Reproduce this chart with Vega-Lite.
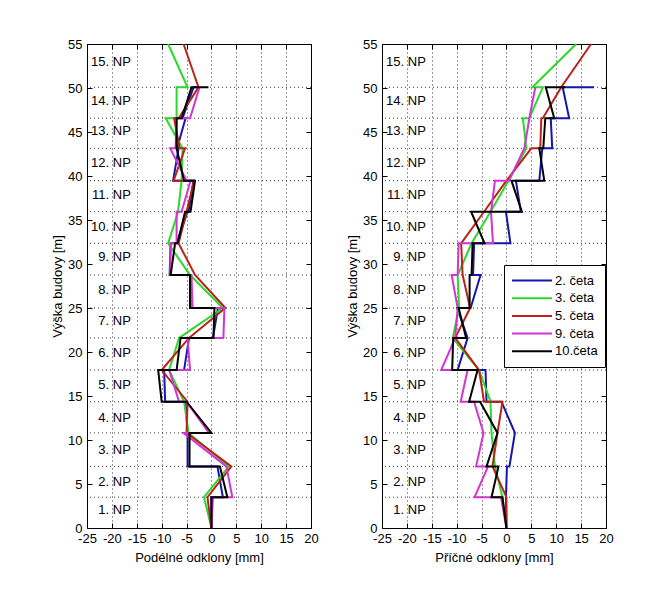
{
"$schema": "https://vega.github.io/schema/vega-lite/v6.json",
"background": "white",
"padding": {"left": 51, "top": 37, "right": 5, "bottom": 5},
"spacing": 27,
"datasets": {
"dummy": [{"v": 0}],
"floors": [{"h":3.5},{"h":7.0},{"h":10.8},{"h":14.35},{"h":17.95},{"h":21.6},{"h":25.0},{"h":28.75},{"h":32.35},{"h":35.94},{"h":39.47},{"h":43.15},{"h":46.56},{"h":50.08}],
"labels": [{"t":"1. NP","ly":2.0},{"t":"2. NP","ly":5.2},{"t":"3. NP","ly":8.9},{"t":"4. NP","ly":12.5},{"t":"5. NP","ly":16.25},{"t":"6. NP","ly":19.9},{"t":"7. NP","ly":23.5},{"t":"8. NP","ly":27.0},{"t":"9. NP","ly":30.8},{"t":"10. NP","ly":34.2},{"t":"11. NP","ly":37.8},{"t":"12. NP","ly":41.5},{"t":"13. NP","ly":45.1},{"t":"14. NP","ly":48.5},{"t":"15. NP","ly":52.95}],
"L": [
{"s":"2. četa","o":1,"x":0,"y":0},{"s":"2. četa","o":2,"x":0,"y":3.5},{"s":"2. četa","o":3,"x":2.3,"y":3.5},{"s":"2. četa","o":4,"x":1.2,"y":7.0},{"s":"2. četa","o":5,"x":-4.8,"y":7.0},{"s":"2. četa","o":6,"x":-4.8,"y":10.8},{"s":"2. četa","o":7,"x":-5.2,"y":14.35},{"s":"2. četa","o":8,"x":-9.3,"y":14.35},{"s":"2. četa","o":9,"x":-9.5,"y":17.95},{"s":"2. četa","o":10,"x":-5.5,"y":17.95},{"s":"2. četa","o":11,"x":-4.5,"y":21.6},{"s":"2. četa","o":12,"x":0.3,"y":21.6},{"s":"2. četa","o":13,"x":1.3,"y":25.0},{"s":"2. četa","o":14,"x":-4.2,"y":25.0},{"s":"2. četa","o":15,"x":-4.2,"y":28.75},{"s":"2. četa","o":16,"x":-8.4,"y":28.75},{"s":"2. četa","o":17,"x":-8.2,"y":32.35},{"s":"2. četa","o":18,"x":-7.0,"y":32.35},{"s":"2. četa","o":19,"x":-4.8,"y":35.94},{"s":"2. četa","o":20,"x":-4.6,"y":35.94},{"s":"2. četa","o":21,"x":-3.6,"y":39.47},{"s":"2. četa","o":22,"x":-7.7,"y":39.47},{"s":"2. četa","o":23,"x":-6.6,"y":43.15},{"s":"2. četa","o":24,"x":-6.9,"y":43.15},{"s":"2. četa","o":25,"x":-5.2,"y":46.56},{"s":"2. četa","o":26,"x":-5.8,"y":46.56},{"s":"2. četa","o":27,"x":-3.6,"y":50.08},{"s":"2. četa","o":28,"x":-2.8,"y":50.08},
{"s":"3. četa","o":1,"x":0,"y":0},{"s":"3. četa","o":2,"x":-1.5,"y":3.5},{"s":"3. četa","o":3,"x":3.5,"y":7.0},{"s":"3. četa","o":4,"x":-4.6,"y":10.8},{"s":"3. četa","o":5,"x":-5.5,"y":14.35},{"s":"3. četa","o":6,"x":-8.5,"y":17.95},{"s":"3. četa","o":7,"x":-6.5,"y":21.6},{"s":"3. četa","o":8,"x":2.3,"y":25.0},{"s":"3. četa","o":9,"x":-4.3,"y":28.75},{"s":"3. četa","o":10,"x":-8.7,"y":32.35},{"s":"3. četa","o":11,"x":-6.7,"y":35.94},{"s":"3. četa","o":12,"x":-6.0,"y":39.47},{"s":"3. četa","o":13,"x":-5.8,"y":43.15},{"s":"3. četa","o":14,"x":-9.2,"y":46.56},{"s":"3. četa","o":15,"x":-7.0,"y":46.56},{"s":"3. četa","o":16,"x":-7.0,"y":50.08},{"s":"3. četa","o":17,"x":-4.8,"y":50.08},{"s":"3. četa","o":18,"x":-8.7,"y":55},
{"s":"5. četa","o":1,"x":0,"y":0},{"s":"5. četa","o":2,"x":-0.8,"y":3.5},{"s":"5. četa","o":3,"x":4.0,"y":7.0},{"s":"5. četa","o":4,"x":-5.0,"y":10.8},{"s":"5. četa","o":5,"x":-4.8,"y":14.35},{"s":"5. četa","o":6,"x":-10.0,"y":17.95},{"s":"5. četa","o":7,"x":-4.5,"y":21.6},{"s":"5. četa","o":8,"x":2.8,"y":25.0},{"s":"5. četa","o":9,"x":-3.3,"y":28.75},{"s":"5. četa","o":10,"x":-6.6,"y":32.35},{"s":"5. četa","o":11,"x":-5.0,"y":35.94},{"s":"5. četa","o":12,"x":-3.5,"y":39.47},{"s":"5. četa","o":13,"x":-7.6,"y":39.47},{"s":"5. četa","o":14,"x":-5.3,"y":43.15},{"s":"5. četa","o":15,"x":-6.4,"y":43.15},{"s":"5. četa","o":16,"x":-7.5,"y":46.56},{"s":"5. četa","o":17,"x":-6.6,"y":46.56},{"s":"5. četa","o":18,"x":-2.6,"y":50.08},{"s":"5. četa","o":19,"x":-5.6,"y":55},
{"s":"9. četa","o":1,"x":0,"y":0},{"s":"9. četa","o":2,"x":0.3,"y":3.5},{"s":"9. četa","o":3,"x":4.2,"y":3.5},{"s":"9. četa","o":4,"x":3.0,"y":7.0},{"s":"9. četa","o":5,"x":-5.6,"y":10.8},{"s":"9. četa","o":6,"x":-0.5,"y":10.8},{"s":"9. četa","o":7,"x":-5.0,"y":14.35},{"s":"9. četa","o":8,"x":-6.5,"y":14.35},{"s":"9. četa","o":9,"x":-8.5,"y":17.95},{"s":"9. četa","o":10,"x":-4.3,"y":17.95},{"s":"9. četa","o":11,"x":-4.8,"y":21.6},{"s":"9. četa","o":12,"x":2.4,"y":21.6},{"s":"9. četa","o":13,"x":2.6,"y":25.0},{"s":"9. četa","o":14,"x":-3.8,"y":25.0},{"s":"9. četa","o":15,"x":-4.0,"y":28.75},{"s":"9. četa","o":16,"x":-8.3,"y":28.75},{"s":"9. četa","o":17,"x":-8.2,"y":32.35},{"s":"9. četa","o":18,"x":-7.0,"y":32.35},{"s":"9. četa","o":19,"x":-7.0,"y":35.94},{"s":"9. četa","o":20,"x":-6.0,"y":35.94},{"s":"9. četa","o":21,"x":-4.2,"y":39.47},{"s":"9. četa","o":22,"x":-5.0,"y":39.47},{"s":"9. četa","o":23,"x":-8.3,"y":43.15},{"s":"9. četa","o":24,"x":-7.2,"y":43.15},{"s":"9. četa","o":25,"x":-7.0,"y":46.56},{"s":"9. četa","o":26,"x":-4.3,"y":46.56},{"s":"9. četa","o":27,"x":-2.4,"y":50.08},
{"s":"10.četa","o":1,"x":0,"y":0},{"s":"10.četa","o":2,"x":0,"y":3.5},{"s":"10.četa","o":3,"x":3.2,"y":3.5},{"s":"10.četa","o":4,"x":1.7,"y":7.0},{"s":"10.četa","o":5,"x":-4.4,"y":7.0},{"s":"10.četa","o":6,"x":-4.4,"y":10.8},{"s":"10.četa","o":7,"x":0,"y":10.8},{"s":"10.četa","o":8,"x":-5.0,"y":14.35},{"s":"10.četa","o":9,"x":-10.0,"y":14.35},{"s":"10.četa","o":10,"x":-10.7,"y":17.95},{"s":"10.četa","o":11,"x":-7.0,"y":17.95},{"s":"10.četa","o":12,"x":-6.2,"y":21.6},{"s":"10.četa","o":13,"x":0.4,"y":21.6},{"s":"10.četa","o":14,"x":0.6,"y":25.0},{"s":"10.četa","o":15,"x":-4.3,"y":25.0},{"s":"10.četa","o":16,"x":-4.3,"y":28.75},{"s":"10.četa","o":17,"x":-8.2,"y":28.75},{"s":"10.četa","o":18,"x":-7.3,"y":32.35},{"s":"10.četa","o":19,"x":-6.8,"y":32.35},{"s":"10.četa","o":20,"x":-5.3,"y":35.94},{"s":"10.četa","o":21,"x":-4.2,"y":35.94},{"s":"10.četa","o":22,"x":-3.3,"y":39.47},{"s":"10.četa","o":23,"x":-5.5,"y":39.47},{"s":"10.četa","o":24,"x":-7.0,"y":43.15},{"s":"10.četa","o":25,"x":-7.0,"y":46.56},{"s":"10.četa","o":26,"x":-6.0,"y":46.56},{"s":"10.četa","o":27,"x":-4.0,"y":50.08},{"s":"10.četa","o":28,"x":-0.6,"y":50.08}
],
"R": [
{"s":"2. četa","o":1,"x":0,"y":0},{"s":"2. četa","o":2,"x":-0.1,"y":3.5},{"s":"2. četa","o":3,"x":0.1,"y":7.0},{"s":"2. četa","o":4,"x":0.6,"y":7.0},{"s":"2. četa","o":5,"x":1.7,"y":10.8},{"s":"2. četa","o":6,"x":-1.0,"y":14.35},{"s":"2. četa","o":7,"x":-4.0,"y":14.35},{"s":"2. četa","o":8,"x":-4.2,"y":17.95},{"s":"2. četa","o":9,"x":-9.8,"y":17.95},{"s":"2. četa","o":10,"x":-7.8,"y":21.6},{"s":"2. četa","o":11,"x":-9.9,"y":25.0},{"s":"2. četa","o":12,"x":-7.2,"y":25.0},{"s":"2. četa","o":13,"x":-5.2,"y":28.75},{"s":"2. četa","o":14,"x":-6.7,"y":28.75},{"s":"2. četa","o":15,"x":-6.5,"y":32.35},{"s":"2. četa","o":16,"x":0.8,"y":32.35},{"s":"2. četa","o":17,"x":-0.1,"y":35.94},{"s":"2. četa","o":18,"x":2.9,"y":35.94},{"s":"2. četa","o":19,"x":1.9,"y":39.47},{"s":"2. četa","o":20,"x":6.6,"y":39.47},{"s":"2. četa","o":21,"x":7.2,"y":43.15},{"s":"2. četa","o":22,"x":9.2,"y":43.15},{"s":"2. četa","o":23,"x":8.9,"y":46.56},{"s":"2. četa","o":24,"x":12.6,"y":46.56},{"s":"2. četa","o":25,"x":11.3,"y":50.08},{"s":"2. četa","o":26,"x":17.6,"y":50.08},
{"s":"3. četa","o":1,"x":0,"y":0},{"s":"3. četa","o":2,"x":-0.8,"y":3.5},{"s":"3. četa","o":3,"x":-2.3,"y":7.0},{"s":"3. četa","o":4,"x":-3.0,"y":10.8},{"s":"3. četa","o":5,"x":-3.2,"y":14.35},{"s":"3. četa","o":6,"x":-5.5,"y":17.95},{"s":"3. četa","o":7,"x":-10.8,"y":21.6},{"s":"3. četa","o":8,"x":-9.5,"y":25.0},{"s":"3. četa","o":9,"x":-9.8,"y":28.75},{"s":"3. četa","o":10,"x":-7.0,"y":32.35},{"s":"3. četa","o":11,"x":-3.2,"y":35.94},{"s":"3. četa","o":12,"x":0.4,"y":39.47},{"s":"3. četa","o":13,"x":4.0,"y":43.15},{"s":"3. četa","o":14,"x":3.3,"y":46.56},{"s":"3. četa","o":15,"x":4.6,"y":46.56},{"s":"3. četa","o":16,"x":7.3,"y":50.08},{"s":"3. četa","o":17,"x":5.2,"y":50.08},{"s":"3. četa","o":18,"x":14.0,"y":55},
{"s":"5. četa","o":1,"x":0,"y":0},{"s":"5. četa","o":2,"x":0,"y":3.5},{"s":"5. četa","o":3,"x":-2.8,"y":7.0},{"s":"5. četa","o":4,"x":-1.8,"y":10.8},{"s":"5. četa","o":5,"x":-0.8,"y":14.35},{"s":"5. četa","o":6,"x":-4.5,"y":14.35},{"s":"5. četa","o":7,"x":-5.5,"y":17.95},{"s":"5. četa","o":8,"x":-10.3,"y":21.6},{"s":"5. četa","o":9,"x":-7.3,"y":25.0},{"s":"5. četa","o":10,"x":-8.8,"y":28.75},{"s":"5. četa","o":11,"x":-9.1,"y":32.35},{"s":"5. četa","o":12,"x":-4.5,"y":35.94},{"s":"5. četa","o":13,"x":0.0,"y":39.47},{"s":"5. četa","o":14,"x":5.0,"y":43.15},{"s":"5. četa","o":15,"x":6.8,"y":43.15},{"s":"5. četa","o":16,"x":7.0,"y":46.56},{"s":"5. četa","o":17,"x":7.3,"y":46.56},{"s":"5. četa","o":18,"x":11.0,"y":50.08},{"s":"5. četa","o":19,"x":17.0,"y":55},
{"s":"9. četa","o":1,"x":0,"y":0},{"s":"9. četa","o":2,"x":-1.1,"y":3.5},{"s":"9. četa","o":3,"x":-6.4,"y":3.5},{"s":"9. četa","o":4,"x":-3.7,"y":7.0},{"s":"9. četa","o":5,"x":-6.1,"y":7.0},{"s":"9. četa","o":6,"x":-4.6,"y":10.8},{"s":"9. četa","o":7,"x":-6.5,"y":14.35},{"s":"9. četa","o":8,"x":-9.2,"y":14.35},{"s":"9. četa","o":9,"x":-7.8,"y":17.95},{"s":"9. četa","o":10,"x":-13.1,"y":17.95},{"s":"9. četa","o":11,"x":-10.3,"y":21.6},{"s":"9. četa","o":12,"x":-9.8,"y":25.0},{"s":"9. četa","o":13,"x":-11.0,"y":28.75},{"s":"9. četa","o":14,"x":-9.8,"y":28.75},{"s":"9. četa","o":15,"x":-9.6,"y":32.35},{"s":"9. četa","o":16,"x":-2.7,"y":32.35},{"s":"9. četa","o":17,"x":-3.1,"y":35.94},{"s":"9. četa","o":18,"x":-2.3,"y":39.47},{"s":"9. četa","o":19,"x":0.5,"y":39.47},{"s":"9. četa","o":20,"x":3.6,"y":43.15},{"s":"9. četa","o":21,"x":4.6,"y":46.56},{"s":"9. četa","o":22,"x":5.8,"y":50.08},
{"s":"10.četa","o":1,"x":0,"y":0},{"s":"10.četa","o":2,"x":-0.8,"y":3.5},{"s":"10.četa","o":3,"x":-3.0,"y":3.5},{"s":"10.četa","o":4,"x":-1.6,"y":7.0},{"s":"10.četa","o":5,"x":-4.0,"y":7.0},{"s":"10.četa","o":6,"x":-1.8,"y":10.8},{"s":"10.četa","o":7,"x":-5.3,"y":14.35},{"s":"10.četa","o":8,"x":-7.5,"y":14.35},{"s":"10.četa","o":9,"x":-5.8,"y":17.95},{"s":"10.četa","o":10,"x":-10.9,"y":17.95},{"s":"10.četa","o":11,"x":-10.7,"y":21.6},{"s":"10.četa","o":12,"x":-8.1,"y":21.6},{"s":"10.četa","o":13,"x":-9.6,"y":25.0},{"s":"10.četa","o":14,"x":-7.4,"y":25.0},{"s":"10.četa","o":15,"x":-7.4,"y":28.75},{"s":"10.četa","o":16,"x":-7.0,"y":28.75},{"s":"10.četa","o":17,"x":-6.8,"y":32.35},{"s":"10.četa","o":18,"x":-4.4,"y":32.35},{"s":"10.četa","o":19,"x":-7.1,"y":35.94},{"s":"10.četa","o":20,"x":3.1,"y":35.94},{"s":"10.četa","o":21,"x":1.0,"y":39.47},{"s":"10.četa","o":22,"x":7.6,"y":39.47},{"s":"10.četa","o":23,"x":6.6,"y":43.15},{"s":"10.četa","o":24,"x":7.4,"y":43.15},{"s":"10.četa","o":25,"x":7.8,"y":46.56},{"s":"10.četa","o":26,"x":9.6,"y":46.56},{"s":"10.četa","o":27,"x":7.9,"y":50.08},{"s":"10.četa","o":28,"x":11.8,"y":50.08}
]
},
"hconcat": [
{
"width": 224, "height": 484,
"layer": [
{"data": {"name": "floors"}, "mark": {"type": "rule", "strokeDash": [1, 3], "color": "#000", "strokeWidth": 1, "opacity": 0.8},
 "encoding": {"y": {"field": "h", "type": "quantitative", "scale": {"domain": [0, 55], "nice": false, "zero": false}, "axis": null}}},
{"data": {"name": "L"}, "mark": {"type": "line", "strokeWidth": 2},
 "encoding": {
  "x": {"field": "x", "type": "quantitative", "scale": {"domain": [-25, 20], "nice": false, "zero": false},
        "axis": {"title": "Podélné odklony [mm]", "values": [-25,-20,-15,-10,-5,0,5,10,15,20], "labelExpr": "'' + datum.value", "grid": true, "gridDash": [1, 3], "gridColor": "#000", "gridOpacity": 0.8, "tickSize": -5, "labelPadding": 9, "domain": false, "titlePadding": 6, "labelFlush": false, "labelOverlap": false}},
  "y": {"field": "y", "type": "quantitative",
        "axis": {"title": "Výška budovy [m]", "values": [0,5,10,15,20,25,30,35,40,45,50,55], "grid": false, "tickSize": -5, "labelPadding": 10, "domain": false, "titlePadding": 3, "labelFlush": false, "labelOverlap": false}},
  "color": {"field": "s", "type": "nominal", "scale": {"domain": ["2. četa","3. četa","5. četa","9. četa","10.četa"], "range": ["#1515B0","#2BD82B","#B82318","#D235D2","#000000"]}, "legend": null},
  "order": {"field": "o", "type": "quantitative"}
 }},
{"data": {"name": "labels"}, "mark": {"type": "text", "align": "right", "baseline": "middle", "font": "Liberation Sans", "fontSize": 13, "color": "#000"},
 "encoding": {"x": {"datum": -16.2, "type": "quantitative", "axis": null}, "y": {"field": "ly", "type": "quantitative", "axis": null}, "text": {"field": "t"}}},
{"data": {"name": "dummy"}, "mark": {"type": "point", "opacity": 0},
 "encoding": {
  "x": {"field": "v", "type": "quantitative", "axis": {"orient": "top", "title": null, "labels": false, "values": [-25,-20,-15,-10,-5,0,5,10,15,20], "grid": false, "tickSize": -5, "domain": false}},
  "y": {"field": "v", "type": "quantitative", "axis": {"orient": "right", "title": null, "labels": false, "values": [0,5,10,15,20,25,30,35,40,45,50,55], "grid": false, "tickSize": -5, "domain": false}}
 }}
],
"resolve": {"axis": {"x": "independent", "y": "independent"}}
},
{
"width": 224, "height": 484,
"layer": [
{"data": {"name": "floors"}, "mark": {"type": "rule", "strokeDash": [1, 3], "color": "#000", "strokeWidth": 1, "opacity": 0.8},
 "encoding": {"y": {"field": "h", "type": "quantitative", "scale": {"domain": [0, 55], "nice": false, "zero": false}, "axis": null}}},
{"data": {"name": "R"}, "mark": {"type": "line", "strokeWidth": 2},
 "encoding": {
  "x": {"field": "x", "type": "quantitative", "scale": {"domain": [-25, 20], "nice": false, "zero": false},
        "axis": {"title": "Příčné odklony [mm]", "values": [-25,-20,-15,-10,-5,0,5,10,15,20], "labelExpr": "'' + datum.value", "grid": true, "gridDash": [1, 3], "gridColor": "#000", "gridOpacity": 0.8, "tickSize": -5, "labelPadding": 9, "domain": false, "titlePadding": 6, "labelFlush": false, "labelOverlap": false}},
  "y": {"field": "y", "type": "quantitative",
        "axis": {"title": "Výška budovy [m]", "values": [0,5,10,15,20,25,30,35,40,45,50,55], "grid": false, "tickSize": -5, "labelPadding": 10, "domain": false, "titlePadding": 3, "labelFlush": false, "labelOverlap": false}},
  "color": {"field": "s", "type": "nominal", "scale": {"domain": ["2. četa","3. četa","5. četa","9. četa","10.četa"], "range": ["#1515B0","#2BD82B","#B82318","#D235D2","#000000"]},
            "legend": {"orient": "none", "legendX": 122, "legendY": 221, "title": null, "symbolType": "stroke", "symbolSize": 1600, "symbolStrokeWidth": 2, "labelFont": "Liberation Sans", "labelFontSize": 13, "labelColor": "#000", "labelOffset": 2, "strokeColor": "#000", "fillColor": "#fff", "padding": 7, "clipHeight": 17, "rowPadding": 0.7, "symbolOpacity": 1}},
  "order": {"field": "o", "type": "quantitative"}
 }},
{"data": {"name": "labels"}, "mark": {"type": "text", "align": "right", "baseline": "middle", "font": "Liberation Sans", "fontSize": 13, "color": "#000"},
 "encoding": {"x": {"datum": -16.2, "type": "quantitative", "axis": null}, "y": {"field": "ly", "type": "quantitative", "axis": null}, "text": {"field": "t"}}},
{"data": {"name": "dummy"}, "mark": {"type": "point", "opacity": 0},
 "encoding": {
  "x": {"field": "v", "type": "quantitative", "axis": {"orient": "top", "title": null, "labels": false, "values": [-25,-20,-15,-10,-5,0,5,10,15,20], "grid": false, "tickSize": -5, "domain": false}},
  "y": {"field": "v", "type": "quantitative", "axis": {"orient": "right", "title": null, "labels": false, "values": [0,5,10,15,20,25,30,35,40,45,50,55], "grid": false, "tickSize": -5, "domain": false}}
 }}
],
"resolve": {"axis": {"x": "independent", "y": "independent"}}
}
],
"resolve": {"scale": {"color": "independent"}},
"config": {
 "view": {"stroke": "#000", "strokeWidth": 1},
 "font": "Liberation Sans",
 "axis": {"labelFont": "Liberation Sans", "labelFontSize": 13, "labelColor": "#000", "titleFont": "Liberation Sans", "titleFontSize": 13, "titleFontWeight": "normal", "titleColor": "#000", "tickColor": "#000", "tickWidth": 1}
}
}
